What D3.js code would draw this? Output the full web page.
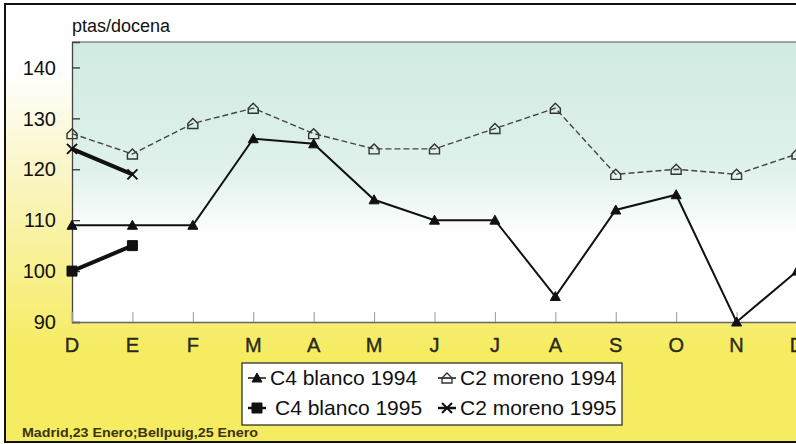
<!DOCTYPE html>
<html><head><meta charset="utf-8">
<script src="https://cdn.jsdelivr.net/npm/d3@7"></script>
<style>html,body{margin:0;padding:0;background:#fff;}svg{display:block;}</style>
</head><body>
<script>
const months = ["D","E","F","M","A","M","J","J","A","S","O","N","D"];
const c4blanco1994 = [109,109,109,126,125,114,110,110,95,112,115,90,100];
const c2moreno1994 = [127,123,129,132,127,124,124,128,132,119,120,119,123];
const c4blanco1995 = [100,105];
const c2moreno1995 = [124,119];
const yTicks = [90,100,110,120,130,140];
const yLabel = "ptas/docena";
const sourceText = "Madrid,23 Enero;Bellpuig,25 Enero";
const legendLabels = ["C4 blanco 1994","C2 moreno 1994","C4 blanco 1995","C2 moreno 1995"];

const W = 796, H = 444;
const svg = d3.select("body").append("svg").attr("width", W).attr("height", H);
const defs = svg.append("defs");
const bg = defs.append("linearGradient").attr("id","bg").attr("gradientUnits","userSpaceOnUse")
  .attr("x1",0).attr("y1",70).attr("x2",0).attr("y2",350);
bg.append("stop").attr("offset",0).attr("stop-color","#ffffff");
bg.append("stop").attr("offset",0.35).attr("stop-color","#fbf6c8");
bg.append("stop").attr("offset",1).attr("stop-color","#f6ec62");
const pg = defs.append("linearGradient").attr("id","pg").attr("gradientUnits","userSpaceOnUse")
  .attr("x1",0).attr("y1",42).attr("x2",0).attr("y2",322);
pg.append("stop").attr("offset",0).attr("stop-color","#d0eae2");
pg.append("stop").attr("offset",0.45).attr("stop-color","#dff1eb");
pg.append("stop").attr("offset",0.7).attr("stop-color","#ffffff");
pg.append("stop").attr("offset",1).attr("stop-color","#ffffff");

// frame + background
svg.append("rect").attr("x",5).attr("y",4).attr("width",W).attr("height",438)
  .attr("fill","url(#bg)").attr("stroke","#111").attr("stroke-width",2);

const x = d3.scaleLinear().domain([0, months.length-1]).range([72, 797]);
const y = d3.scaleLinear().domain([90, 145]).range([322, 42]);

// plot area
svg.append("rect").attr("x",72).attr("y",y(145)).attr("width",W-72+10).attr("height",y(90)-y(145))
  .attr("fill","url(#pg)");
svg.append("line").attr("x1",72).attr("x2",W).attr("y1",y(145)).attr("y2",y(145))
  .attr("stroke","#555").attr("stroke-width",1.2);

// y axis
const yAxis = d3.axisRight(y).tickValues(yTicks).tickSize(8).tickFormat("");
const gy = svg.append("g").attr("transform","translate(72,0)").call(yAxis);
gy.select(".domain").attr("stroke","#444").attr("stroke-width",1.3);
gy.selectAll(".tick line").attr("stroke","#333").attr("stroke-width",1.3);
svg.append("g").selectAll("text").data(yTicks).join("text")
  .attr("x",56).attr("y",d=>y(d)).attr("dy","0.36em").attr("text-anchor","end")
  .attr("font-family","Liberation Sans, Arial, sans-serif").attr("font-size",20).attr("fill","#111")
  .text(d=>d);

// x axis
const xAxis = d3.axisTop(x).tickValues(d3.range(months.length)).tickSize(10).tickFormat("");
const gx = svg.append("g").attr("transform",`translate(0,${y(90)})`).call(xAxis);
gx.select(".domain").attr("stroke","#666").attr("stroke-width",1.3);
gx.selectAll(".tick line").attr("stroke","#999").attr("stroke-width",1);
svg.append("g").selectAll("text").data(months).join("text")
  .attr("x",(d,i)=>x(i)).attr("y",352).attr("text-anchor","middle")
  .attr("font-family","Liberation Sans, Arial, sans-serif").attr("font-size",20)
  .attr("fill","#2b2a18").attr("stroke","#2b2a18").attr("stroke-width",0.4)
  .text(d=>d);

svg.append("text").attr("x",72).attr("y",32).attr("font-family","Liberation Sans, Arial, sans-serif")
  .attr("font-size",18).attr("fill","#111").text(yLabel);

const line = d3.line().x((d,i)=>x(i)).y(d=>y(d));

// marker shapes
const tri = "M0,-5 L5,4 L-5,4 Z";
const house = "M-5,5 L5,5 L5,0 L0,-5 L-5,0 Z";
const sq = "M-5,-5 L5,-5 L5,5 L-5,5 Z";
const xm = "M-5,-5 L5,5 M-5,5 L5,-5";

function drawSeries(data, opts){
  const g = svg.append("g");
  g.append("path").datum(data).attr("d",line).attr("fill","none")
    .attr("stroke",opts.stroke).attr("stroke-width",opts.width)
    .attr("stroke-dasharray",opts.dash||null);
  g.selectAll("path.m").data(data).join("path").attr("class","m")
    .attr("transform",(d,i)=>`translate(${x(i)},${y(d)})`)
    .attr("d",opts.shape).attr("fill",opts.fill).attr("stroke",opts.mstroke).attr("stroke-width",opts.mw);
}
const styles = [
  {stroke:"#111",width:2,shape:tri,fill:"#111",mstroke:"#111",mw:1},
  {stroke:"#444",width:1.4,dash:"6,3",shape:house,fill:"none",mstroke:"#333",mw:1.4},
  {stroke:"#111",width:4,shape:sq,fill:"#111",mstroke:"#111",mw:1},
  {stroke:"#111",width:4,shape:xm,fill:"none",mstroke:"#111",mw:2}
];
drawSeries(c2moreno1994, styles[1]);
drawSeries(c4blanco1994, styles[0]);
drawSeries(c4blanco1995, styles[2]);
drawSeries(c2moreno1995, styles[3]);

// legend
const lg = svg.append("g");
lg.append("rect").attr("x",242).attr("y",363).attr("width",380).attr("height",62)
  .attr("fill","#fff").attr("stroke","#222").attr("stroke-width",1.2);
const legPos = [[257,385,270],[447,385,460],[257,415,275],[447,415,460]];
legendLabels.forEach((lab,i)=>{
  const [mx,my,tx] = legPos[i];
  const s = styles[i];
  lg.append("line").attr("x1",mx-9).attr("x2",mx+9).attr("y1",my-7).attr("y2",my-7)
    .attr("stroke","#111").attr("stroke-width",i>=2?2.5:1.5);
  lg.append("path").attr("transform",`translate(${mx},${my-7})`).attr("d",s.shape)
    .attr("fill",s.fill).attr("stroke",s.mstroke).attr("stroke-width",s.mw);
  lg.append("text").attr("x",tx).attr("y",my).attr("font-family","Liberation Sans, Arial, sans-serif")
    .attr("font-size",21).attr("fill","#111").text(lab);
});

svg.append("text").attr("x",22).attr("y",437).attr("font-family","Liberation Sans, Arial, sans-serif")
  .attr("font-size",13).attr("font-weight","bold").attr("fill","#3a3410")
  .attr("textLength",236).attr("lengthAdjust","spacingAndGlyphs").text(sourceText);
</script>
</body></html>
